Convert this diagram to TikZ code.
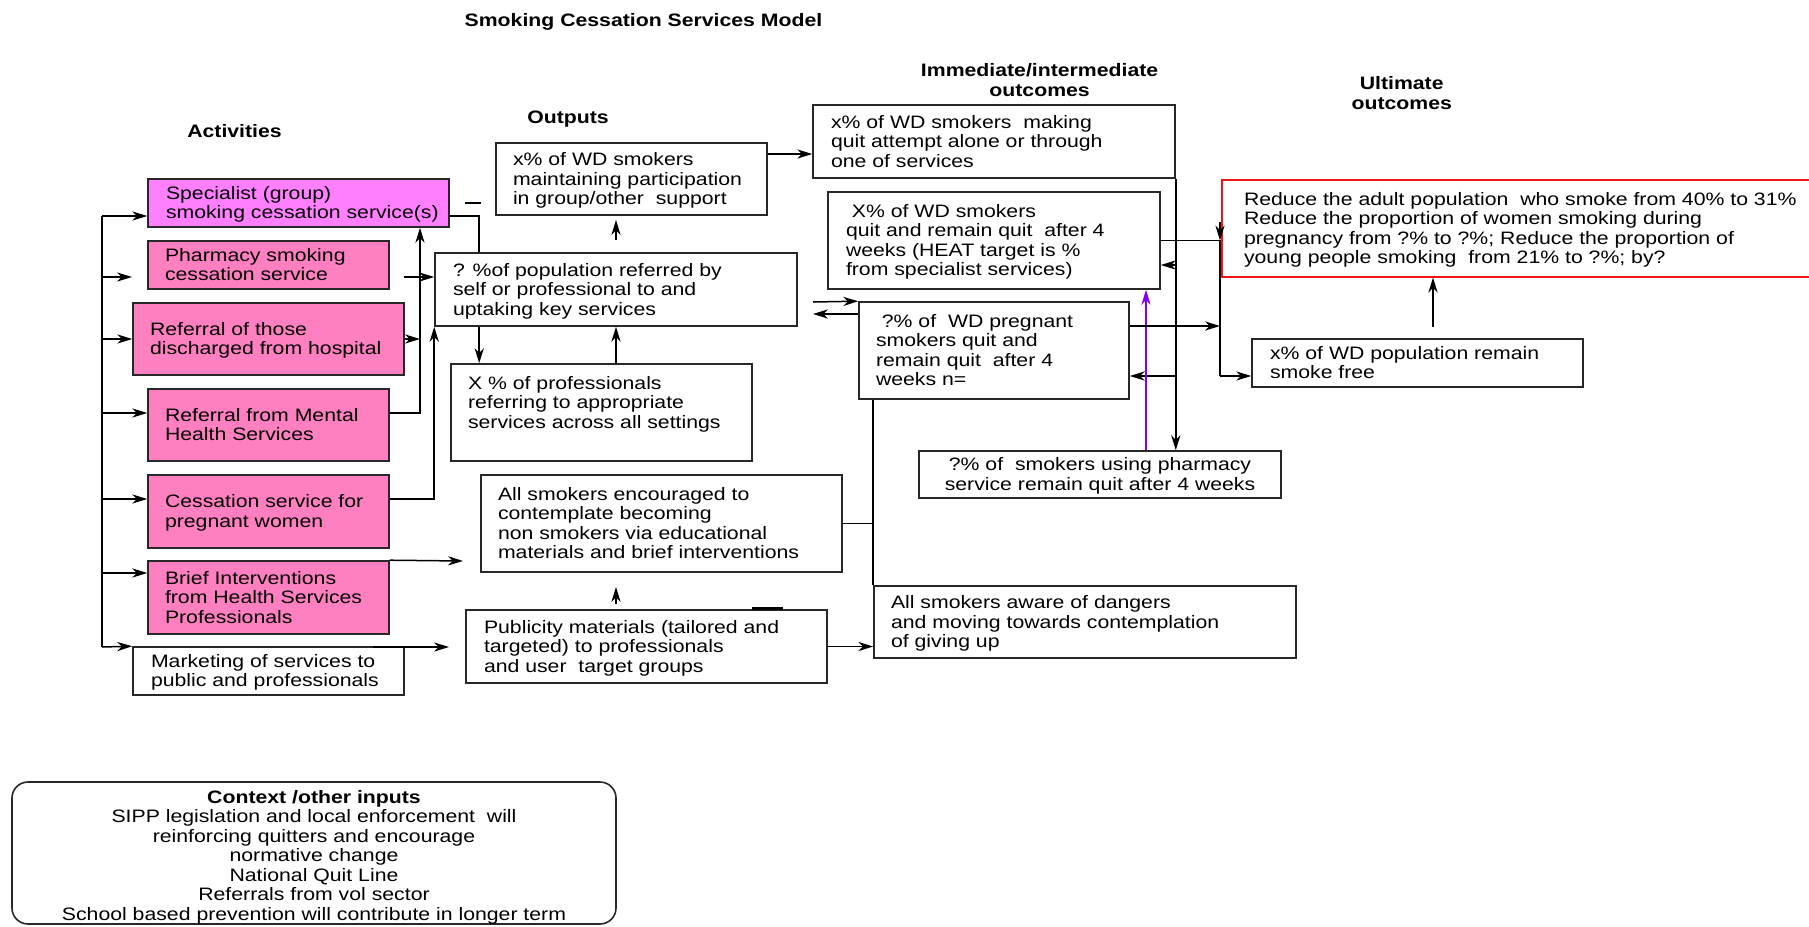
\documentclass[tikz,border=0pt]{standalone}
\usepackage{fontspec}
\setmainfont{Liberation Sans}[FakeStretch=1.18]
\usetikzlibrary{arrows.meta}

\definecolor{specfill}{RGB}{255,128,255}
\definecolor{pinkfill}{RGB}{255,128,192}
\definecolor{boxedge}{RGB}{40,40,40}
\definecolor{goalred}{RGB}{240,20,20}
\definecolor{violetline}{RGB}{128,0,255}

\newcommand\boxfont{\fontsize{9pt}{9.75pt}\selectfont}
% lower a block slightly while keeping its reported size
\newcommand\sink[2]{\raisebox{-#1}[\height][\depth]{#2}}
% left-aligned block of lines inside a box of given width, with a left inset
\newcommand\lefttext[3]{\makebox[#1][l]{\hspace*{#2}\sink{1.15pt}{\begin{tabular}{@{}l@{}}#3\end{tabular}}}}
\newcommand\centretext[1]{\sink{1.15pt}{\begin{tabular}{@{}c@{}}#1\end{tabular}}}

\tikzset{
  box/.style={draw=boxedge, line width=0.8pt, fill=white, inner sep=0pt, font=\boxfont},
  pinkbox/.style={box, fill=pinkfill},
  header/.style={inner sep=0pt, font=\boxfont\bfseries},
  conn/.style={line width=0.75pt, black},
  arr/.style={conn, -{Stealth[length=7.5pt,width=4.6pt,inset=2.4pt]}},
  parr/.style={line width=0.75pt, violetline, -{Stealth[length=7.5pt,width=4.6pt,inset=2.4pt]}},
}

\begin{document}
\begin{tikzpicture}[x=0.5pt,y=-0.5pt]
\useasboundingbox (0,0) rectangle (1809,926);

% ---- headings
\node[header] (title) at (643.5,21.9) {Smoking Cessation Services Model};
\node[header] (acts) at (234.5,131.3) {Activities};
\node[header] (outs) at (568,118.8) {Outputs};
\node[header] (imm) at (1039.6,80.2) {\centretext{Immediate/intermediate\\outcomes}};
\node[header] (ult) at (1401.7,93.5) {\centretext{Ultimate\\outcomes}};

% ---- activities
\node[box, fill=specfill, minimum width=150.5pt, minimum height=24pt] (spec) at (298.5,203)
  {\lefttext{150.5pt}{9pt}{Specialist (group)\\smoking cessation service(s)}};
\node[pinkbox, minimum width=120.5pt, minimum height=24pt] (pharm) at (268.5,265)
  {\lefttext{120.5pt}{8.5pt}{Pharmacy smoking\\cessation service}};
\node[pinkbox, minimum width=135.5pt, minimum height=36pt] (hosp) at (268.5,339)
  {\lefttext{135.5pt}{8.5pt}{Referral of those\\discharged from hospital}};
\node[pinkbox, minimum width=120.5pt, minimum height=36pt] (ment) at (268.5,425)
  {\lefttext{120.5pt}{8.5pt}{Referral from Mental\\Health Services}};
\node[pinkbox, minimum width=120.5pt, minimum height=36.5pt] (pregw) at (268.5,511.5)
  {\lefttext{120.5pt}{8.5pt}{Cessation service for\\pregnant women}};
\node[pinkbox, minimum width=120.5pt, minimum height=36.5pt] (brief) at (268.5,597.5)
  {\lefttext{120.5pt}{8.5pt}{Brief Interventions\\from Health Services\\Professionals}};
\node[box, minimum width=135.5pt, minimum height=24pt] (mkt) at (268.5,671)
  {\lefttext{135.5pt}{9pt}{Marketing of services to\\public and professionals}};

% ---- outputs
\node[box, minimum width=135.5pt, minimum height=36pt] (maint) at (631.5,179)
  {\lefttext{135.5pt}{8.5pt}{x\% of WD smokers\\maintaining participation\\in group/other\ \ support}};
\node[box, minimum width=181pt, minimum height=36.5pt] (pop) at (616,289.5)
  {\lefttext{181pt}{9pt}{? \%of population referred by\\self or professional to and\\uptaking key services}};
\node[box, minimum width=150.5pt, minimum height=48.5pt] (prof) at (601.5,412.5)
  {\lefttext{150.5pt}{8.5pt}{X \% of professionals\\referring to appropriate\\services across all settings\\ \mbox{}}};
\node[box, minimum width=180.5pt, minimum height=48.5pt] (enc) at (661.5,523.5)
  {\lefttext{180.5pt}{8.5pt}{All smokers encouraged to\\contemplate becoming\\non smokers via educational\\materials and brief interventions}};
\node[box, minimum width=180.5pt, minimum height=36.5pt] (pub) at (646.5,646.5)
  {\lefttext{180.5pt}{9pt}{Publicity materials (tailored and\\targeted) to professionals\\and user\ \ target groups}};

% ---- immediate / intermediate outcomes
\node[box, minimum width=181pt, minimum height=36.5pt] (make) at (994,141.5)
  {\lefttext{181pt}{9pt}{x\% of WD smokers\ \ making\\quit attempt alone or through\\one of services}};
\node[box, minimum width=166pt, minimum height=48.5pt] (heat) at (994,240.5)
  {\lefttext{166pt}{9pt}{\ X\% of WD smokers\\quit and remain quit\ \ after 4\\weeks (HEAT target is \%\\from specialist services)}};
\node[box, minimum width=135pt, minimum height=48.5pt] (pregwd) at (994,350.5)
  {\lefttext{135pt}{8.5pt}{\ ?\% of\ \ WD pregnant\\smokers quit and\\remain quit\ \ after 4\\weeks n=}};
\node[box, minimum width=181pt, minimum height=23.5pt] (pharmq) at (1100,474.5)
  {\centretext{?\% of\ \ smokers using pharmacy\\service remain quit after 4 weeks}};
\node[box, minimum width=211pt, minimum height=36pt] (aware) at (1085,622)
  {\lefttext{211pt}{8.5pt}{All smokers aware of dangers\\and moving towards contemplation\\of giving up}};

% ---- ultimate outcomes
\node[box, draw=goalred, line width=0.6pt, minimum width=296.5pt, minimum height=48.5pt] (goal) at (1518.5,228.5)
  {\lefttext{296.5pt}{11pt}{Reduce the adult population\ \ who smoke from 40\% to 31\%\\Reduce the proportion of women smoking during\\pregnancy from ?\% to ?\%; Reduce the proportion of\\young people smoking\ \ from 21\% to ?\%; by?}};
\node[box, minimum width=165.5pt, minimum height=24pt] (free) at (1417.5,363)
  {\lefttext{165.5pt}{9pt}{x\% of WD population remain\\smoke free}};

% ---- context
\node[box, rounded corners=8pt, minimum width=302pt, minimum height=71pt] (ctx) at (314,853)
  {\sink{1.15pt}{\centretext{\textbf{Context /other inputs}\\SIPP legislation and local enforcement\ \ will\\reinforcing quitters and encourage\\normative change\\National Quit Line\\Referrals from vol sector\\School based prevention will contribute in longer term}}};

% ---- helper points
\coordinate (trunkT) at (102,216);
\coordinate (trunkB) at (102,647);
\coordinate (pharmIn) at (132,277);
\coordinate (mentIn) at ([yshift=6pt]ment.west);
\coordinate (pregwIn) at ([yshift=6.25pt]pregw.west);
\coordinate (briefIn) at ([yshift=12.25pt]brief.west);
\coordinate (busX) at (420,300);
\coordinate (mentOut) at ([yshift=6pt]ment.east);
\coordinate (pregwOut) at ([yshift=6.25pt]pregw.east);
\coordinate (pharmOut) at (404,277);
\coordinate (popTopL) at ([xshift=22.5pt]pop.north west);
\coordinate (popBotL) at ([xshift=22.5pt]pop.south west);
\coordinate (dashA) at (465,203);
\coordinate (dashB) at (481,203);
\coordinate (encIn) at (463,561);
\coordinate (mktOut) at (373,647);
\coordinate (pubIn) at (449,647);
\coordinate (upA) at (616,240);
\coordinate (upB) at (616,220);
\coordinate (tickA) at (616,604);
\coordinate (tickB) at (616,587);
\coordinate (pubMarkA) at (752,608.5);
\coordinate (pubMarkB) at (783,608.5);
\coordinate (maintOut) at ([yshift=12.5pt]maint.east);
\coordinate (popR1) at (813,302);
\coordinate (popR2) at (813,314);
\coordinate (heatIn) at ([yshift=-12.25pt]heat.east);
\coordinate (pregwdIn) at ([yshift=-12.75pt]pregwd.east);
\coordinate (pregwdOut) at ([yshift=12.25pt]pregwd.east);
\coordinate (ubusTop) at (1220,240.5);
\coordinate (ubusBot) at (1220,376);
\coordinate (dnA) at (1220,222);
\coordinate (freeUp) at (1433,327);
\coordinate (purpX) at (1146,400);

% ---- activity feeds
\draw[conn] (trunkT) -- (trunkB);
\draw[arr] (trunkT) -- (spec.west |- trunkT);
\draw[arr] (trunkT |- pharmIn) -- (pharmIn);
\draw[arr] (trunkT |- hosp.west) -- (hosp.west);
\draw[arr] (trunkT |- mentIn) -- (mentIn);
\draw[arr] (trunkT |- pregwIn) -- (pregwIn);
\draw[arr] (trunkT |- briefIn) -- (briefIn);
\draw[arr] (trunkB) -- (mkt.north west);

% ---- activities to outputs
\draw[conn] (spec.east |- trunkT) -| (popTopL);
\draw[conn] (dashA) -- (dashB);
\draw[arr] (mentOut) -| (spec.south -| busX);
\draw[arr] (hosp.east) -- (hosp.east -| busX);
\draw[arr] (pharmOut) -- (pop.west |- pharmOut);
\draw[arr] (pregwOut) -| (pop.south west);
\draw[arr] (brief.north east) -- (encIn);
\draw[arr] (mktOut) -- (pubIn);

% ---- within outputs
\draw[arr] (upA) -- (upB);
\draw[arr] (popBotL) -- (popBotL |- prof.north);
\draw[arr] (prof.north -| pop.south) -- (pop.south);
\draw[arr] (tickA) -- (tickB);
\draw[line width=1.2pt] (pubMarkA) -- (pubMarkB);

% ---- outputs to intermediate outcomes
\draw[arr] (maintOut) -- (maintOut -| make.west);
\draw[arr] (popR1) -- (pregwd.north west);
\draw[arr] (popR2 -| pregwd.west) -- (popR2);
\draw[conn] (enc.east) -- (enc.east -| aware.west);
\draw[conn] (pregwd.south -| aware.west) -- (aware.north west);
\draw[arr] (pub.east) -- (pub.east -| aware.west);

% ---- intermediate bus
\draw[arr] (make.south east) -- (make.south east |- pharmq.north);
\draw[arr] (heatIn -| make.south east) -- (heatIn);
\draw[arr] (pregwdIn -| make.south east) -- (pregwdIn);
\draw[parr] (purpX |- pharmq.north) -- (purpX |- heat.south);

% ---- to ultimate outcomes
\draw[conn] (heat.east) -- (ubusTop) -- (ubusBot);
\draw[arr] (dnA) -- (ubusTop);
\draw[arr] (pregwdOut) -- (pregwdOut -| ubusTop);
\draw[arr] (ubusBot) -- (ubusBot -| free.west);
\draw[arr] (freeUp) -- (freeUp |- goal.south);
\end{tikzpicture}
\end{document}
